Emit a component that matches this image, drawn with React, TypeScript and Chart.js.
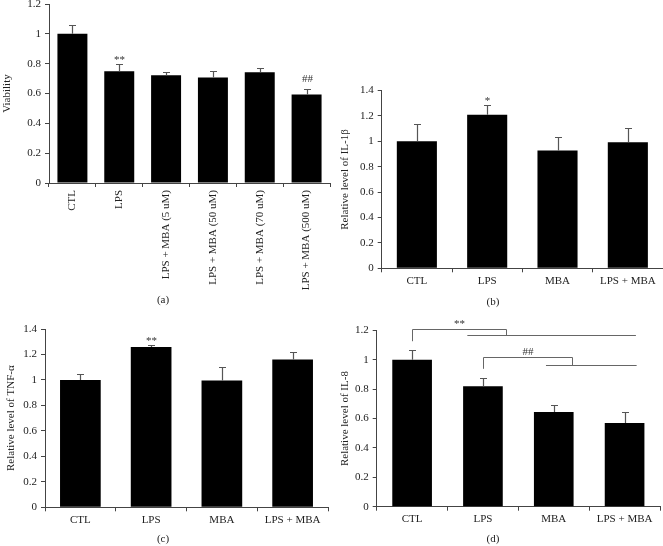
import React, { useEffect, useRef } from "react";
import { Chart, registerables } from "chart.js";

Chart.register(...registerables);

// ---------- data ----------
const viabilityCategories = [
  "CTL",
  "LPS",
  "LPS + MBA (5 uM)",
  "LPS + MBA (50 uM)",
  "LPS + MBA (70 uM)",
  "LPS + MBA (500 uM)",
];
const viabilityValues = [1.0, 0.75, 0.723, 0.707, 0.743, 0.593];
const viabilityErrors = [0.058, 0.045, 0.02, 0.043, 0.03, 0.036];
const viabilityMarks = ["", "**", "", "", "", "##"];

const groupCategories = ["CTL", "LPS", "MBA", "LPS + MBA"];

const il1bValues = [1.0, 1.209, 0.929, 0.994];
const il1bErrors = [0.133, 0.078, 0.104, 0.11];
const il1bMarks = ["", "*", "", ""];

const tnfValues = [1.0, 1.258, 0.995, 1.16];
const tnfErrors = [0.045, 0.02, 0.105, 0.058];
const tnfMarks = ["", "**", "", ""];

const il8Values = [1.0, 0.82, 0.645, 0.57];
const il8Errors = [0.064, 0.057, 0.048, 0.077];
const il8Marks = ["", "", "", ""];
// brackets: category index range, heights in data units
const il8Brackets = [
  { text: "**", start: 0, end: 1.32, top: 1.207, startDrop: 1.127, endDrop: 1.166, lineFrom: 0.78, lineTo: 3.16 },
  { text: "##", start: 1, end: 2.26, top: 1.02, startDrop: 0.939, endDrop: 0.968, lineFrom: 1.89, lineTo: 3.17 },
];

// ---------- styles ----------
const FONT = "'Liberation Serif', 'Times New Roman', serif";
const AXIS = "#444";
const TEXT = "#222";

type Bracket = typeof il8Brackets[number];

interface PanelCfg {
  categories: string[];
  values: number[];
  errors: number[];
  marks: string[];
  brackets: Bracket[];
  yMax: number;
  yTitle: string;
  panelLabel: string;
  rotated: boolean;
  barPct: number;
  canvas: { left: number; top: number; width: number; height: number };
  pad: { left: number; top: number; right: number; bottom: number };
  yWidth: number;
  xHeight: number;
  labelPos: { x: number; y: number };
  tickPad: number;
}

const panels: PanelCfg[] = [
  {
    categories: viabilityCategories,
    values: viabilityValues,
    errors: viabilityErrors,
    marks: viabilityMarks,
    brackets: [],
    yMax: 1.2,
    yTitle: "Viability",
    panelLabel: "(a)",
    rotated: true,
    barPct: 0.64,
    canvas: { left: 0, top: -20, width: 331, height: 330 },
    pad: { left: 1, top: 24, right: 1, bottom: 3 },
    yWidth: 48,
    xHeight: 124,
    labelPos: { x: 163, y: 320 },
    tickPad: 3,
  },
  {
    categories: groupCategories,
    values: il1bValues,
    errors: il1bErrors,
    marks: il1bMarks,
    brackets: [],
    yMax: 1.4,
    yTitle: "Relative level of IL-1β",
    panelLabel: "(b)",
    rotated: false,
    barPct: 0.57,
    canvas: { left: 331, top: 80, width: 332, height: 230 },
    pad: { left: 7.4, top: 10, right: 0, bottom: 11.7 },
    yWidth: 43.3,
    xHeight: 30,
    labelPos: { x: 162, y: 222 },
    tickPad: 2,
  },
  {
    categories: groupCategories,
    values: tnfValues,
    errors: tnfErrors,
    marks: tnfMarks,
    brackets: [],
    yMax: 1.4,
    yTitle: "Relative level of TNF-α",
    panelLabel: "(c)",
    rotated: false,
    barPct: 0.575,
    canvas: { left: 0, top: 315, width: 331, height: 231 },
    pad: { left: 5, top: 14, right: 3, bottom: 8.7 },
    yWidth: 40,
    xHeight: 30,
    labelPos: { x: 163, y: 224 },
    tickPad: 2,
  },
  {
    categories: groupCategories,
    values: il8Values,
    errors: il8Errors,
    marks: il8Marks,
    brackets: il8Brackets,
    yMax: 1.2,
    yTitle: "Relative level of IL-8",
    panelLabel: "(d)",
    rotated: false,
    barPct: 0.56,
    canvas: { left: 331, top: 315, width: 332, height: 231 },
    pad: { left: 7.4, top: 15.5, right: 3, bottom: 9.3 },
    yWidth: 38.3,
    xHeight: 30,
    labelPos: { x: 162, y: 224 },
    tickPad: 2,
  },
];

function makeOverlay(cfg: PanelCfg) {
  return {
    id: "overlay",
    afterDatasetsDraw(chart: any) {
      const { ctx, scales } = chart;
      const x = scales.x;
      const y = scales.y;
      ctx.save();
      ctx.font = `11px ${FONT}`;
      ctx.fillStyle = "#333";
      ctx.textAlign = "center";
      ctx.textBaseline = "alphabetic";
      cfg.values.forEach((v, i) => {
        const cx = Math.round(x.getPixelForValue(i)) + 0.5;
        const yTop = y.getPixelForValue(v);
        const yErr = Math.round(y.getPixelForValue(v + cfg.errors[i])) + 0.5;
        ctx.strokeStyle = "#555";
        ctx.lineWidth = 1.2;
        ctx.beginPath();
        ctx.moveTo(cx, yTop);
        ctx.lineTo(cx, yErr);
        ctx.moveTo(cx - 3.5, yErr);
        ctx.lineTo(cx + 3.5, yErr);
        ctx.stroke();
        const m = cfg.marks[i];
        if (m) {
          const gap = m.startsWith("#") ? 8 : 1.5;
          ctx.fillText(m, cx, yErr - gap);
        }
      });
      cfg.brackets.forEach((b) => {
        const x0 = Math.round(x.getPixelForValue(b.start)) + 0.5;
        const x1 = Math.round(x.getPixelForValue(b.end)) + 0.5;
        const yt = Math.round(y.getPixelForValue(b.top)) + 0.5;
        const ys = y.getPixelForValue(b.startDrop);
        const ye = Math.round(y.getPixelForValue(b.endDrop)) + 0.5;
        const l0 = x.getPixelForValue(b.lineFrom);
        const l1 = x.getPixelForValue(b.lineTo);
        ctx.strokeStyle = "#666";
        ctx.lineWidth = 1;
        ctx.beginPath();
        ctx.moveTo(x0, ys);
        ctx.lineTo(x0, yt);
        ctx.lineTo(x1, yt);
        ctx.lineTo(x1, ye);
        ctx.moveTo(l0, ye);
        ctx.lineTo(l1, ye);
        ctx.stroke();
        ctx.fillText(b.text, (x0 + x1) / 2, yt - 3);
      });
      ctx.fillStyle = TEXT;
      ctx.textBaseline = "middle";
      ctx.fillText(cfg.panelLabel, cfg.labelPos.x, cfg.labelPos.y);
      ctx.restore();
    },
  };
}

function Panel({ cfg }: { cfg: PanelCfg }) {
  const ref = useRef<HTMLCanvasElement | null>(null);
  useEffect(() => {
    if (!ref.current) return;
    const chart = new Chart(ref.current, {
      type: "bar",
      data: {
        labels: cfg.categories,
        datasets: [
          {
            data: cfg.values,
            backgroundColor: "#000",
            borderWidth: 0,
            barPercentage: cfg.barPct,
            categoryPercentage: 1,
          },
        ],
      },
      options: {
        responsive: false,
        animation: false,
        devicePixelRatio: 1,
        layout: { padding: cfg.pad },
        plugins: {
          legend: { display: false },
          tooltip: { enabled: false },
          title: { display: false },
        },
        scales: {
          x: {
            grid: {
              display: true,
              drawOnChartArea: false,
              drawTicks: true,
              tickLength: 4,
              color: AXIS,
              offset: true,
            },
            border: { display: true, color: AXIS, width: 1 },
            ticks: {
              color: TEXT,
              font: { family: FONT, size: 11 },
              padding: cfg.tickPad,
              autoSkip: false,
              maxRotation: cfg.rotated ? 90 : 0,
              minRotation: cfg.rotated ? 90 : 0,
            },
            afterFit: (s: any) => {
              s.height = cfg.xHeight;
            },
          },
          y: {
            min: 0,
            max: cfg.yMax,
            grid: {
              display: true,
              drawOnChartArea: false,
              drawTicks: true,
              tickLength: 4,
              color: AXIS,
            },
            border: { display: true, color: AXIS, width: 1 },
            ticks: {
              stepSize: 0.2,
              color: TEXT,
              font: { family: FONT, size: 11 },
              padding: 4,
              callback: (v: any) => String(Math.round(Number(v) * 10) / 10),
            },
            title: {
              display: true,
              text: cfg.yTitle,
              color: TEXT,
              font: { family: FONT, size: 11 },
              padding: { top: 0, bottom: 0 },
            },
            afterFit: (s: any) => {
              s.width = cfg.yWidth;
            },
          },
        },
      },
      plugins: [makeOverlay(cfg)],
    } as any);
    return () => chart.destroy();
  }, [cfg]);
  return (
    <canvas
      ref={ref}
      width={cfg.canvas.width}
      height={cfg.canvas.height}
      style={{
        position: "absolute",
        left: cfg.canvas.left,
        top: cfg.canvas.top,
        width: cfg.canvas.width,
        height: cfg.canvas.height,
      }}
    />
  );
}

export default function App() {
  return (
    <div
      style={{
        position: "absolute",
        left: 0,
        top: 0,
        width: 663,
        height: 546,
        overflow: "hidden",
        background: "#fff",
      }}
    >
      {panels.map((p, i) => (
        <Panel key={i} cfg={p} />
      ))}
    </div>
  );
}
